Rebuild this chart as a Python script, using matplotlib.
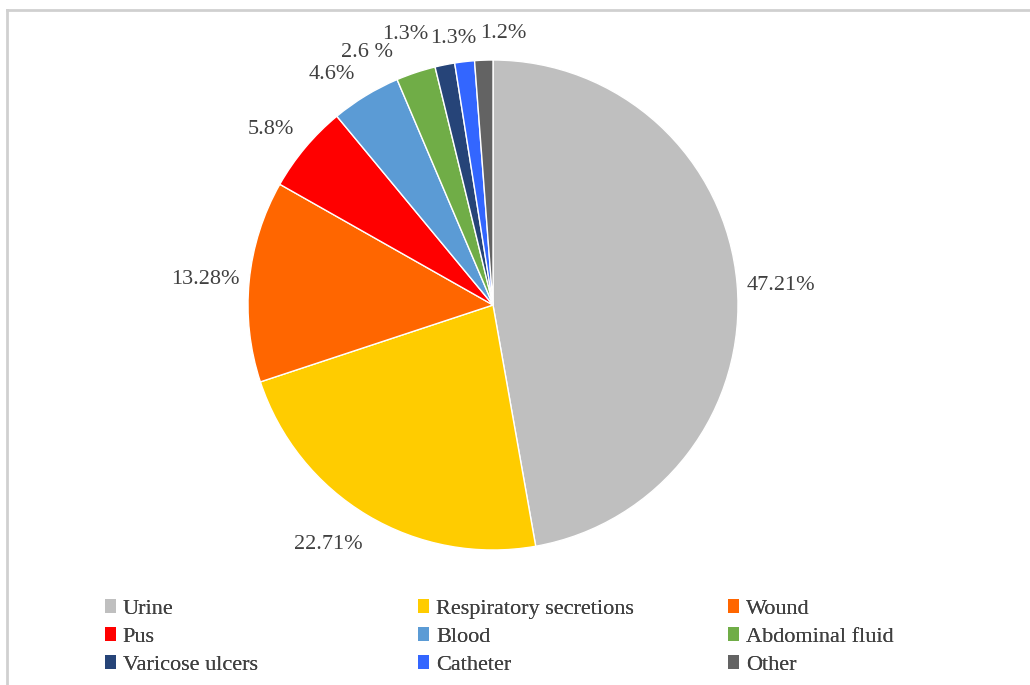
import matplotlib
matplotlib.use("Agg")
import numpy as np
import matplotlib.pyplot as plt
from matplotlib.lines import Line2D
from matplotlib.patches import Patch

plt.rcParams['font.family'] = ['Liberation Serif', 'DejaVu Serif']

# data
sources = ["Urine", "Respiratory secretions", "Wound", "Pus", "Blood",
           "Abdominal fluid", "Varicose ulcers", "Catheter", "Other"]
shares = [47.21, 22.71, 13.28, 5.8, 4.6, 2.6, 1.3, 1.3, 1.2]
share_labels = ["47.21%", "22.71%", "13.28%", "5.8%", "4.6%",
                "2.6 %", "1.3%", "1.3%", "1.2%"]
colors = ["#bfbfbf", "#ffcc00", "#ff6600", "#ff0000", "#5b9bd5",
          "#70ad47", "#264478", "#3366ff", "#636363"]

# small labels nudged round the rim so they don't collide
label_shift = [-0.7, -4, 0, 1.3, 3.3, 8.0, 6.5, 1.8, -4.3]
label_dist = [1.18, 1.18, 1.18, 1.16, 1.156, 1.16, 1.171, 1.11, 1.12]

W, H = 1030, 685
cx, cy, rad = 493, 305, 245  # pie centre / radius in pixels

fig = plt.figure(figsize=(W / 100, H / 100), dpi=100)
ax = fig.add_axes([0, 0, 1, 1])
ax.axis("off")

wedges, _ = ax.pie(shares, colors=colors, startangle=90, counterclock=False,
                   wedgeprops=dict(edgecolor="white", linewidth=1.0))

for w, txt, sh, r in zip(wedges, share_labels, label_shift, label_dist):
    ang = np.deg2rad((w.theta1 + w.theta2) / 2 + sh)
    ax.text(r * np.cos(ang), r * np.sin(ang) - 0.01, txt, ha="center", va="center",
            fontsize=16, color="#404040")

ax.set_xlim(-cx / rad, (W - cx) / rad)
ax.set_ylim(-(H - cy) / rad, cy / rad)
ax.set_aspect("equal")

handles = [Patch(facecolor=c, edgecolor="none") for c in colors]
col_x = [0.102, 0.406, 0.707]
for k in range(3):
    idx = [k, k + 3, k + 6]
    leg = fig.legend([handles[i] for i in idx], [sources[i] for i in idx],
                     ncol=1, loc="upper left", bbox_to_anchor=(col_x[k], 0.1255),
                     frameon=False, fontsize=16, handlelength=0.5, handleheight=0.62,
                     handletextpad=0.3, labelspacing=0.36, borderaxespad=0,
                     borderpad=0.0, labelcolor="#404040")
    fig.add_artist(leg)

# light border on top and left
fig.add_artist(Line2D([0.0065, 0.0065], [0.0, 0.986], transform=fig.transFigure,
                      color="#d0d0d0", linewidth=2))
fig.add_artist(Line2D([0.0065, 1.0], [0.986, 0.986], transform=fig.transFigure,
                      color="#d0d0d0", linewidth=2))

fig.savefig("out.png", dpi=100)
